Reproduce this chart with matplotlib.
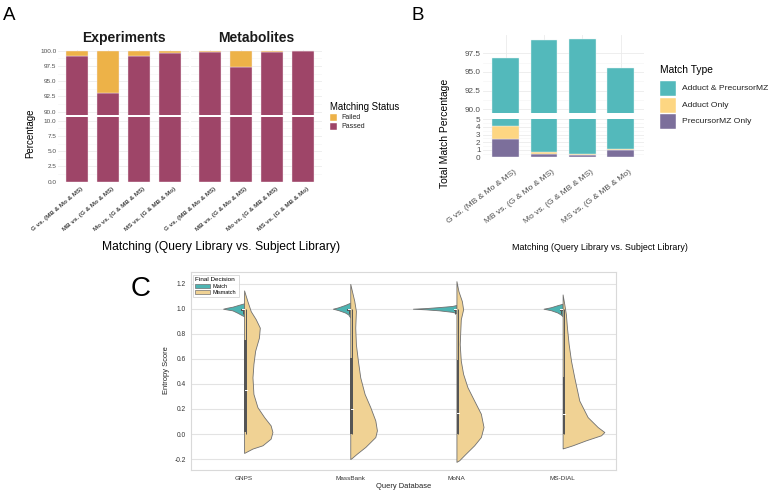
import matplotlib
matplotlib.use('Agg')
import matplotlib.pyplot as plt
from matplotlib.transforms import ScaledTranslation
from matplotlib.patches import Patch, Rectangle

W, H = 779, 491
plt.rcParams['font.family'] = ['Liberation Sans', 'DejaVu Sans']

# ---------------- Panel A data ----------------
a_labels = ["G vs. (MB & Mo & MS)", "MB vs. (G & Mo & MS)",
            "Mo vs. (G & MB & MS)", "MS vs. (G & MB & Mo)"]
a_exp_passed = [99.2, 93.0, 99.2, 99.6]
a_exp_failed = [0.8, 7.0, 0.8, 0.4]
a_met_passed = [99.8, 97.4, 99.85, 99.95]
a_met_failed = [0.2, 2.6, 0.15, 0.05]
a_upper_ticks = [90.0, 92.5, 95.0, 97.5, 100.0]
a_lower_ticks = [0.0, 2.5, 5.0, 7.5, 10.0]

# ---------------- Panel B data ----------------
b_labels = a_labels
b_precursor_only = [2.4, 0.43, 0.35, 0.92]
b_adduct_only = [1.7, 0.31, 0.12, 0.13]
b_both = [92.8, 98.59, 99.0, 94.51]
b_upper_ticks = [90.0, 92.5, 95.0, 97.5]
b_lower_ticks = [0, 1, 2, 3, 4, 5]

# ---------------- Panel C data (violin outlines) -------
c_dbs = ["GNPS", "MassBank", "MoNA", "MS-DIAL"]
gnps_match_y = [1.043, 1.032, 1.016, 1.008, 1.0, 0.994, 0.987, 0.968, 0.948, 0.94]
gnps_match_w = [0.0, 0.047, 0.11, 0.16, 0.198, 0.16, 0.11, 0.063, 0.02, 0.0]
gnps_mis_y = [1.146, 1.061, 0.98, 0.916, 0.849, 0.77, 0.664, 0.559, 0.452, 0.32,
              0.214, 0.135, 0.069, 0.016, -0.037, -0.09, -0.116, -0.151]
gnps_mis_w = [0.0, 0.031, 0.063, 0.11, 0.148, 0.14, 0.104, 0.088, 0.079, 0.088,
              0.126, 0.189, 0.25, 0.267, 0.25, 0.173, 0.079, 0.0]
mb_match_y = [1.048, 1.03, 1.012, 1.005, 1.0, 0.995, 0.988, 0.97, 0.955, 0.93]
mb_match_w = [0.0, 0.05, 0.11, 0.14, 0.164, 0.14, 0.11, 0.05, 0.02, 0.0]
mb_mis_y = [1.198, 1.14, 1.061, 0.982, 0.849, 0.717, 0.585, 0.452, 0.32, 0.214,
            0.108, 0.029, -0.024, -0.103, -0.156, -0.19, -0.2]
mb_mis_w = [0.0, 0.016, 0.038, 0.053, 0.047, 0.053, 0.072, 0.094, 0.135, 0.189,
            0.236, 0.251, 0.236, 0.142, 0.063, 0.016, 0.0]
mona_match_y = [1.03, 1.022, 1.013, 1.005, 1.0, 0.995, 0.987, 0.975, 0.965]
mona_match_w = [0.0, 0.04, 0.163, 0.29, 0.41, 0.29, 0.163, 0.04, 0.0]
mona_mis_y = [1.22, 1.14, 1.061, 0.995, 0.916, 0.717, 0.585, 0.48, 0.373, 0.267,
              0.162, 0.056, -0.024, -0.09, -0.156, -0.21, -0.222]
mona_mis_w = [0.0, 0.019, 0.051, 0.063, 0.041, 0.031, 0.041, 0.063, 0.104, 0.167,
              0.23, 0.255, 0.23, 0.167, 0.088, 0.025, 0.0]
msd_match_y = [1.04, 1.028, 1.012, 1.005, 1.0, 0.995, 0.988, 0.97, 0.955, 0.94]
msd_match_w = [0.0, 0.05, 0.11, 0.15, 0.18, 0.15, 0.11, 0.05, 0.02, 0.0]
msd_mis_y = [1.114, 1.035, 0.955, 0.849, 0.717, 0.585, 0.452, 0.267, 0.135, 0.056,
             0.016, -0.01, -0.05, -0.09, -0.111, -0.115]
msd_mis_w = [0.0, 0.016, 0.031, 0.041, 0.057, 0.079, 0.11, 0.157, 0.236, 0.33,
             0.393, 0.362, 0.22, 0.094, 0.016, 0.0]
# box stats for Mismatch: whisker low, q1, median, q3, whisker high
mis_box = [(0.0, 0.016, 0.352, 0.749, 1.0),
           (0.0, 0.0, 0.196, 0.603, 1.0),
           (0.0, 0.0, 0.166, 0.59, 1.0),
           (0.0, 0.0, 0.16, 0.452, 1.0)]
match_box = [(0.96, 0.985, 1.0, 1.0, 1.0)] * 4
c_yticks = [-0.2, 0.0, 0.2, 0.4, 0.6, 0.8, 1.0, 1.2]

# colours
col_passed = '#9E4568'
col_failed = '#EDB248'
col_both = '#53B9BB'
col_adduct = '#FDD682'
col_prec = '#7C6F9B'
col_match = '#4DB4B2'
col_mis = '#F0D294'
tick_col = '#4D4D4D'

fig = plt.figure(figsize=(W / 100, H / 100), dpi=100)


def ax_px(l, t, r, b):
    return fig.add_axes([l / W, 1 - b / H, (r - l) / W, (b - t) / H])


def gg_style(ax):
    ax.set_facecolor('white')
    for s in ax.spines.values():
        s.set_visible(False)
    ax.grid(True, which='major', color='#EBEBEB', lw=0.6)
    ax.grid(True, which='minor', axis='y', color='#F3F3F3', lw=0.4)
    ax.tick_params(which='both', length=0)
    ax.set_axisbelow(True)


def shift_labels(ax, dx_px, rot):
    for lbl in ax.get_xticklabels():
        lbl.set_rotation(rot)
        lbl.set_ha('right')
        lbl.set_va('top')
        lbl.set_rotation_mode('anchor')
        lbl.set_transform(lbl.get_transform() + ScaledTranslation(dx_px / 100, 0, fig.dpi_scale_trans))


# ---------------- Panel A ----------------
xa = list(range(len(a_labels)))
for (l, r, passed, failed, showy) in [(58.4, 188.6, a_exp_passed, a_exp_failed, True),
                                      (191.4, 321.6, a_met_passed, a_met_failed, False)]:
    up = ax_px(l, 50.1, r, 115.1)
    lo = ax_px(l, 117.3, r, 181.7)
    for ax, ylim, ticks in [(up, (89.45, 100.1), a_upper_ticks), (lo, (0, 10.55), a_lower_ticks)]:
        gg_style(ax)
        ax.bar(xa, passed, width=0.7, color=col_passed, edgecolor='#F4E8EC', lw=0.3)
        ax.bar(xa, failed, bottom=passed, width=0.7, color=col_failed, edgecolor='#F4E8EC', lw=0.3)
        ax.set_xlim(-0.6, 3.6)
        ax.set_ylim(*ylim)
        ax.set_xticks(xa)
        ax.set_yticks(ticks)
        ax.set_yticks([(ticks[i] + ticks[i + 1]) / 2 for i in range(len(ticks) - 1)], minor=True)
        if showy:
            ax.set_yticklabels(['%.1f' % t for t in ticks], fontsize=4.6, color=tick_col)
            ax.tick_params(axis='y', pad=1.5)
        else:
            ax.set_yticklabels([])
    up.set_xticklabels([])
    lo.set_xticklabels(a_labels, fontsize=4.5, fontweight='bold', color='#444444')
    lo.tick_params(axis='x', pad=3.6)
    shift_labels(lo, 4, 40)

# ---------------- Panel B ----------------
xb = list(range(len(b_labels)))
bup = ax_px(482.7, 35.0, 643.7, 113.4)
blo = ax_px(482.7, 118.7, 643.7, 157.3)
bot2 = [p + a for p, a in zip(b_precursor_only, b_adduct_only)]
for ax, ylim, ticks in [(bup, (89.46, 99.95), b_upper_ticks), (blo, (0, 5.08), b_lower_ticks)]:
    gg_style(ax)
    ax.bar(xb, b_precursor_only, width=0.7, color=col_prec, edgecolor='#EEEEF4', lw=0.3)
    ax.bar(xb, b_adduct_only, bottom=b_precursor_only, width=0.7, color=col_adduct, edgecolor='#EEEEF4', lw=0.3)
    ax.bar(xb, b_both, bottom=bot2, width=0.7, color=col_both, edgecolor='#E6F4F4', lw=0.3)
    ax.set_xlim(-0.6, 3.6)
    ax.set_ylim(*ylim)
    ax.set_xticks(xb)
    ax.set_yticks(ticks)
    ax.set_yticks([(ticks[i] + ticks[i + 1]) / 2 for i in range(len(ticks) - 1)], minor=True)
    ax.tick_params(axis='y', pad=1.5)
bup.set_yticklabels(['%.1f' % t for t in b_upper_ticks], fontsize=5.9, color=tick_col)
blo.set_yticklabels([str(t) for t in b_lower_ticks], fontsize=5.9, color=tick_col)
bup.set_xticklabels([])
blo.set_xticklabels(b_labels, fontsize=6.0, color=tick_col)
blo.tick_params(axis='x', pad=8)
shift_labels(blo, 8, 37)

# ---------------- Panel C ----------------
cax = ax_px(191, 272, 615.7, 470)
cax.set_facecolor('white')
for s in cax.spines.values():
    s.set_color('#D9D9D9')
    s.set_linewidth(0.8)
cax.grid(True, axis='y', color='#E3E3E3', lw=0.8)
cax.set_axisbelow(True)
cax.tick_params(length=0)
profiles = [(gnps_match_y, gnps_match_w, gnps_mis_y, gnps_mis_w),
            (mb_match_y, mb_match_w, mb_mis_y, mb_mis_w),
            (mona_match_y, mona_match_w, mona_mis_y, mona_mis_w),
            (msd_match_y, msd_match_w, msd_mis_y, msd_mis_w)]
edge = '#707070'
box_col = '#555555'
for i, (my, mw, sy, sw) in enumerate(profiles):
    cax.fill_betweenx(my, [i - w for w in mw], i, facecolor=col_match, edgecolor=edge, lw=0.6, zorder=2)
    cax.fill_betweenx(sy, i, [i + w for w in sw], facecolor=col_mis, edgecolor=edge, lw=0.6, zorder=2)
    for (wl, q1, med, q3, wh), xc in [(mis_box[i], i + 0.014), (match_box[i], i - 0.014)]:
        cax.plot([xc, xc], [wl, wh], color=box_col, lw=0.7, zorder=3, solid_capstyle='butt')
        cax.add_patch(Rectangle((xc - 0.013, q1), 0.026, max(q3 - q1, 0.012),
                                facecolor=box_col, edgecolor='none', zorder=4))
        cax.plot([xc - 0.01, xc + 0.01], [med, med], color='white', lw=0.7, zorder=5)
cax.set_xlim(-0.5, 3.5)
cax.set_ylim(-0.287, 1.293)
cax.set_xticks(range(len(c_dbs)))
cax.set_xticklabels(c_dbs, fontsize=4.6, color='#333333')
cax.set_yticks(c_yticks)
cax.set_yticklabels(['%.1f' % t if t >= 0 else '-%.1f' % abs(t) for t in c_yticks],
                    fontsize=4.8, color='#333333')
cax.tick_params(axis='x', pad=4)
cax.tick_params(axis='y', pad=3.5)
leg = cax.legend(handles=[Patch(facecolor=col_match, edgecolor=edge, lw=0.5, label='Match'),
                          Patch(facecolor=col_mis, edgecolor=edge, lw=0.5, label='Mismatch')],
                 title='Final Decision', loc='upper left', bbox_to_anchor=(0.002, 0.99),
                 fontsize=4.0, title_fontsize=4.6, frameon=True, fancybox=False,
                 borderpad=0.4, handlelength=2.6, handleheight=0.7, labelspacing=0.25,
                 handletextpad=0.6, borderaxespad=0.2)
leg.get_frame().set_edgecolor('#CCCCCC')
leg.get_frame().set_linewidth(0.6)
leg._legend_box.align = 'left'

# ---------------- overlay for texts / legends ----------------
ov = fig.add_axes([0, 0, 1, 1], zorder=10)
ov.set_xlim(0, W)
ov.set_ylim(H, 0)
ov.axis('off')
ov.patch.set_alpha(0)

ov.text(3, 15, 'A', fontsize=13.5, va='center', ha='left')
ov.text(412, 15, 'B', fontsize=13.5, va='center', ha='left')
ov.text(131, 289, 'C', fontsize=20, va='center', ha='left')

ov.text(123.5, 38, 'Experiments', fontsize=10, fontweight='bold', ha='center', va='center', color='#1A1A1A')
ov.text(256.5, 38, 'Metabolites', fontsize=10, fontweight='bold', ha='center', va='center', color='#1A1A1A')
ov.text(30, 133, 'Percentage', fontsize=7, rotation=90, ha='center', va='center')
ov.text(221, 247, 'Matching (Query Library vs. Subject Library)', fontsize=8.7, ha='center', va='center')

ov.text(330, 107, 'Matching Status', fontsize=6.9, ha='left', va='center')
for k, (lab, col) in enumerate([('Failed', col_failed), ('Passed', col_passed)]):
    y0 = 114 + k * 8.5
    ov.add_patch(Rectangle((330, y0), 7, 7, facecolor=col, edgecolor='white', lw=0.3))
    ov.text(341, y0 + 3.6, lab, fontsize=5, ha='left', va='center', color='#222222')

ov.text(445, 133, 'Total Match Percentage', fontsize=7.5, rotation=90, ha='center', va='center')
ov.text(600, 247, 'Matching (Query Library vs. Subject Library)', fontsize=6.4, ha='center', va='center')
ov.text(660, 70, 'Match Type', fontsize=7.4, ha='left', va='center')
for k, (lab, col) in enumerate([('Adduct & PrecursorMZ', col_both), ('Adduct Only', col_adduct),
                                ('PrecursorMZ Only', col_prec)]):
    y0 = 81 + k * 16.5
    ov.add_patch(Rectangle((660, y0), 16, 15, facecolor=col, edgecolor='white', lw=0.3))
    ov.text(682, y0 + 7.5, lab, fontsize=6.1, ha='left', va='center', color='#222222')

ov.text(167, 370, 'Entropy Score', fontsize=5.4, rotation=90, ha='center', va='center', color='#222222')
ov.text(404, 487, 'Query Database', fontsize=5.4, ha='center', va='center', color='#222222')

fig.savefig('out.png', dpi=100)
